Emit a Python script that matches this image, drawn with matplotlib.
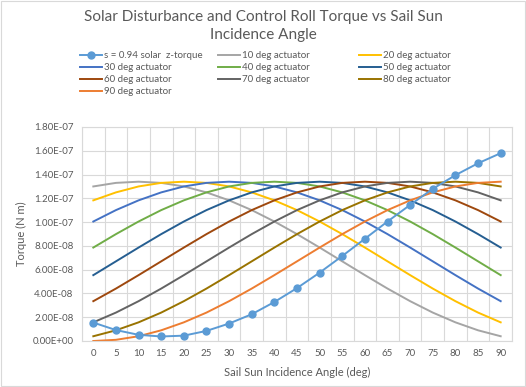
import numpy as np
from matplotlib import pyplot as plt
from matplotlib.lines import Line2D

plt.rcParams['font.family'] = ['Lato', 'DejaVu Sans']

angle = list(range(0, 95, 5))

# torque values, in units of 1e-8 N m
solar = [1.55, 0.92, 0.52, 0.38, 0.45, 0.85, 1.47, 2.25, 3.28, 4.45, 5.75,
         7.15, 8.60, 10.05, 11.45, 12.80, 13.95, 14.95, 15.80]
act10 = [13.00, 13.30, 13.40, 13.30, 13.00, 12.50, 11.83, 11.01, 10.05, 8.99,
         7.86, 6.70, 5.54, 4.41, 3.35, 2.39, 1.57, 0.90, 0.40]
act20 = [11.83, 12.50, 13.00, 13.30, 13.40, 13.30, 13.00, 12.50, 11.83, 11.01,
         10.05, 8.99, 7.86, 6.70, 5.54, 4.41, 3.35, 2.39, 1.57]
act30 = [10.05, 11.01, 11.83, 12.50, 13.00, 13.30, 13.40, 13.30, 13.00, 12.50,
         11.83, 11.01, 10.05, 8.99, 7.86, 6.70, 5.54, 4.41, 3.35]
act40 = [7.86, 8.99, 10.05, 11.01, 11.83, 12.50, 13.00, 13.30, 13.40, 13.30,
         13.00, 12.50, 11.83, 11.01, 10.05, 8.99, 7.86, 6.70, 5.54]
act50 = [5.54, 6.70, 7.86, 8.99, 10.05, 11.01, 11.83, 12.50, 13.00, 13.30,
         13.40, 13.30, 13.00, 12.50, 11.83, 11.01, 10.05, 8.99, 7.86]
act60 = [3.35, 4.41, 5.54, 6.70, 7.86, 8.99, 10.05, 11.01, 11.83, 12.50,
         13.00, 13.30, 13.40, 13.30, 13.00, 12.50, 11.83, 11.01, 10.05]
act70 = [1.57, 2.39, 3.35, 4.41, 5.54, 6.70, 7.86, 8.99, 10.05, 11.01,
         11.83, 12.50, 13.00, 13.30, 13.40, 13.30, 13.00, 12.50, 11.83]
act80 = [0.40, 0.90, 1.57, 2.39, 3.35, 4.41, 5.54, 6.70, 7.86, 8.99,
         10.05, 11.01, 11.83, 12.50, 13.00, 13.30, 13.40, 13.30, 13.00]
act90 = [0.00, 0.10, 0.40, 0.90, 1.57, 2.39, 3.35, 4.41, 5.54, 6.70,
         7.86, 8.99, 10.05, 11.01, 11.83, 12.50, 13.00, 13.30, 13.40]

actuators = [act10, act20, act30, act40, act50, act60, act70, act80, act90]
act_names = ['%d deg actuator' % a for a in range(10, 100, 10)]
act_colors = ['#A5A5A5', '#FFC000', '#4472C4', '#70AD47', '#255E91',
              '#9E480E', '#636363', '#997300', '#ED7D31']
solar_name = 's = 0.94 solar  z-torque'
solar_color = '#5B9BD5'
txt = '#595959'

fig = plt.figure(figsize=(5.26, 3.87), dpi=100)
ax = fig.add_axes([82/526, 1 - 341/387, 430/526, 214/387])

colors = {}
for vals, name, c in zip(actuators, act_names, act_colors):
    ax.plot(angle, np.array(vals) * 1e-8, color=c, lw=1.4)
    colors[name] = c
ax.plot(angle, np.array(solar) * 1e-8, color=solar_color, lw=1.4,
        marker='o', ms=5)
colors[solar_name] = solar_color

ax.set_xlim(-2.5, 92.5)
ax.set_ylim(0, 1.8e-7)
ax.set_xticks(angle)
ax.set_xticks(np.arange(-2.5, 95, 5), minor=True)
yt = np.arange(0, 1.81e-7, 2e-8)
ax.set_yticks(yt)
ax.set_yticklabels(['%.2E' % v for v in yt])
ax.grid(True, which='minor', axis='x', color='#D9D9D9', lw=0.8)
ax.grid(True, which='major', axis='y', color='#D9D9D9', lw=0.8)
ax.set_axisbelow(True)
ax.tick_params(which='both', length=0, labelsize=7, colors=txt, pad=6)
for s in ax.spines.values():
    s.set_color('#D9D9D9')
    s.set_linewidth(0.8)

ax.set_xlabel('Sail Sun Incidence Angle (deg)', fontsize=8, color=txt, labelpad=6)
ax.set_ylabel('Torque (N m)', fontsize=8, color=txt, labelpad=4)

fig.text(0.5, 1 - 17/387, 'Solar Disturbance and Control Roll Torque vs Sail Sun',
         ha='center', va='center', fontsize=11, color=txt)
fig.text(0.5, 1 - 35/387, 'Incidence Angle', ha='center', va='center',
         fontsize=11, color=txt)

# legend, laid out by hand in 3 columns like the excel one
order = [solar_name] + act_names
col_x = [80, 218, 359]
for i, name in enumerate(order):
    r, c = divmod(i, 3)
    x0 = col_x[c] / 526
    y0 = 1 - (55 + 12 * r) / 387
    fig.add_artist(Line2D([x0, x0 + 22/526], [y0, y0], color=colors[name], lw=1.4))
    if name == solar_name:
        fig.add_artist(Line2D([x0 + 11/526], [y0], color=solar_color,
                              marker='o', ms=5, lw=0))
    fig.text(x0 + 24/526, y0, name, ha='left', va='center', fontsize=7, color=txt)

fig.add_artist(plt.Rectangle((1/526, 1/387), 1 - 2/526, 1 - 2/387,
                             fill=False, ec='#D9D9D9', lw=0.8,
                             transform=fig.transFigure))

plt.savefig('out.png', dpi=100)
